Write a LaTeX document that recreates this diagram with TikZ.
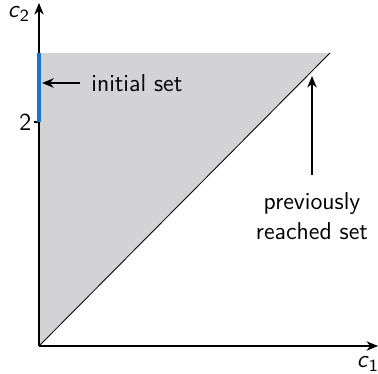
\documentclass[tikz,border=0pt]{standalone}
\usepackage{tikz}
\usetikzlibrary{arrows.meta, positioning}
\definecolor{initblue}{HTML}{1874C6}
\definecolor{reachgray}{HTML}{D3D3D5}

\begin{document}
\begin{tikzpicture}[
    x=0.476pt, y=-0.476pt,
    font=\sffamily\fontsize{11.6}{14}\selectfont,
    axis/.style={-{Stealth[length=5.5pt, width=4.5pt]}, semithick},
    pointer/.style={-{Stealth[length=5.5pt, width=4.5pt]}, semithick},
    axislabel/.style={inner sep=1pt},
]
\useasboundingbox (0,0) rectangle (378,374);

% Reached region
\coordinate (origin) at (39,346);
\coordinate (top) at (39,53);
\coordinate (corner) at (330,53);
\fill[reachgray] (origin) -- (top) -- (corner) -- cycle;
\draw[thin] (origin) -- (corner);

% Axes
\coordinate (xend) at (378,346);
\coordinate (yend) at (39,3);
\draw[axis] (origin) -- (xend);
\draw[axis] (origin) -- (yend);
\node[axislabel] (cone) at (368,364) {\textit{c}\textsubscript{1}};
\node[axislabel] (ctwo) at (19,14) {\textit{c}\textsubscript{2}};

% Tick and initial set
\coordinate (tick) at (39,122);
\draw[semithick] (tick) -- ++(-5,0) node[left, inner sep=1pt] (two) {2};
\draw[initblue, line width=2pt] (top) -- (tick);

% Labels
\node[right] (initlabel) at (84,83) {initial set};
\draw[pointer, shorten <=2pt, shorten >=1.5pt] (initlabel.west) -- (initlabel.west -| origin);
\node[align=center] (reachlabel) at (312,216) {previously\\reached set};
\coordinate (reachpt) at (312,76);
\draw[pointer, shorten <=5pt] (reachlabel.north) -- (reachpt);

\end{tikzpicture}
\end{document}
